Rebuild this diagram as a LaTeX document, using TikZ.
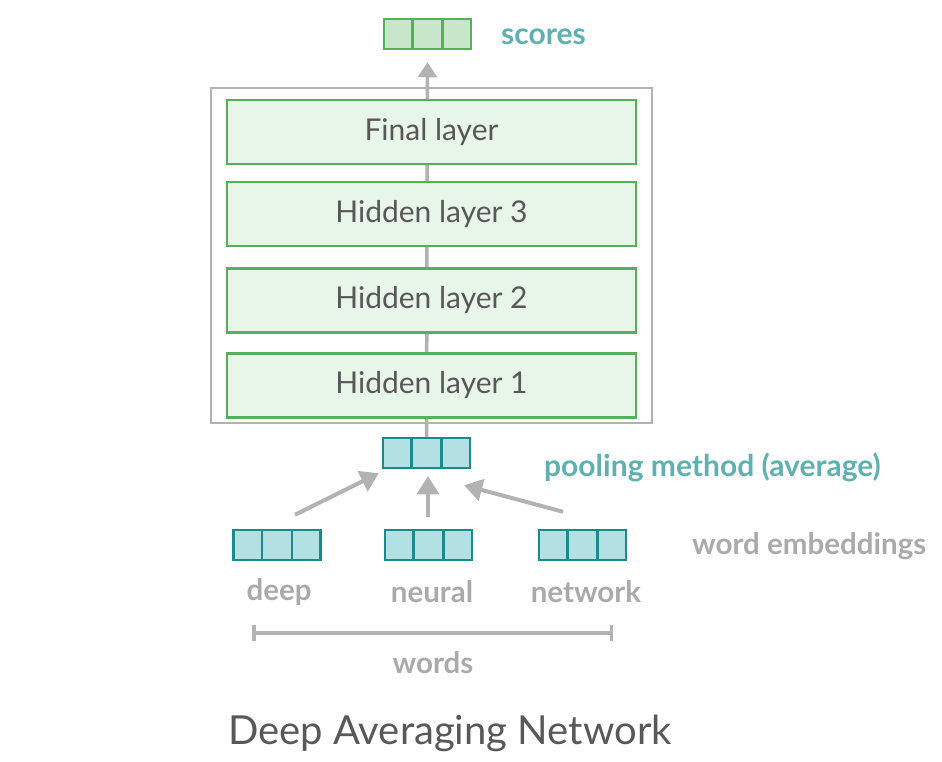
\documentclass[tikz,border=0pt]{standalone}
\usepackage{fontspec}
\setmainfont{Lato}
\usetikzlibrary{arrows.meta, positioning, calc, backgrounds}
\definecolor{layergreen}{RGB}{86,176,90}
\definecolor{layerfill}{RGB}{232,245,233}
\definecolor{scorefill}{RGB}{200,230,201}
\definecolor{embteal}{RGB}{27,138,140}
\definecolor{embfill}{RGB}{178,224,227}
\definecolor{labelteal}{RGB}{95,176,176}
\definecolor{softgray}{RGB}{178,178,178}
\definecolor{wordgray}{RGB}{170,170,170}
\definecolor{textdark}{RGB}{88,88,88}
\newcommand{\pxfont}[1]{\fontsize{#1}{#1}\selectfont}

\begin{document}
\begin{tikzpicture}[
            x=1pt, y=-1pt,
            layer/.style={draw=layergreen, line width=2.5pt, fill=layerfill,
                minimum width=409pt, minimum height=64pt, inner sep=0pt,
                text=textdark, font=\pxfont{30}},
            vec/.style={line width=2.5pt, minimum width=87pt, minimum height=30pt, inner sep=0pt},
            scorevec/.style={vec, draw=layergreen, fill=scorefill},
            embvec/.style={vec, draw=embteal, fill=embfill},
            teallabel/.style={text=labelteal, font=\pxfont{30}\bfseries, inner sep=0pt},
            graylabel/.style={text=wordgray, font=\pxfont{29.5}\bfseries, inner sep=0pt},
            flow/.style={draw=softgray, line width=3.5pt, -{Triangle[length=15pt, width=19pt]}},
            pool arrow/.style={draw=softgray, line width=4pt, -{Triangle[length=18pt, width=22pt]}},
        ]
            \useasboundingbox (0,0) rectangle (942,762);

            % Network frame and layers
            \node[draw=softgray, line width=2.5pt, minimum width=441pt, minimum height=335pt] (frame) at (431.5,255.5) {};
            \node[layer] (final) at (431.5,132) {Final layer};
            \node[layer] (hid3) at (431.5,214) {Hidden layer 3};
            \node[layer] (hid2) at (431.5,300.5) {Hidden layer 2};
            \node[layer] (hid1) at (431.5,385.5) {Hidden layer 1};

            % Output scores
            \node[scorevec] (scores) at (427.5,34) {};
            \node[teallabel, anchor=west] (scoreslbl) at (501,37) {scores};

            % Pooled vector
            \node[embvec] (pool) at (426.5,453) {};
            \node[teallabel, anchor=west] (poollbl) at (544,467) {pooling method (average)};

            % Word embeddings
            \node[embvec] (deep) at (277,545) {};
            \node[embvec] (neural) at (428.5,545) {};
            \node[embvec] (network) at (582.5,545) {};
            \node[graylabel, anchor=west] (emblbl) at (692,546) {word embeddings};

            % Cell dividers
            \foreach \v/\c in {scores/layergreen, pool/embteal, deep/embteal, neural/embteal, network/embteal} {
                \draw[\c, line width=2.5pt] ($(\v.north west)!1/3!(\v.north east)$) -- ($(\v.south west)!1/3!(\v.south east)$);
                \draw[\c, line width=2.5pt] ($(\v.north west)!2/3!(\v.north east)$) -- ($(\v.south west)!2/3!(\v.south east)$);
            }

            % Words
            \node[graylabel] (wdeep) at (279,592) {deep};
            \node[graylabel] (wneural) at (432,592) {neural};
            \node[graylabel] (wnetwork) at (586,592) {network};

            % Words bracket
            \coordinate (brl) at (252,633);
            \coordinate (brr) at (613,633);
            \draw[draw=softgray, line width=3.5pt, {Bar[width=16pt]}-{Bar[width=16pt]}] (brl) -- (brr);
            \node[graylabel] (wordslbl) at (433,663) {words};

            % Title
            \node[text=textdark, font=\pxfont{40}] (title) at (450,733) {Deep Averaging Network};

            % Flow through the network
            \begin{pgfonlayer}{background}
                \draw[flow, shorten >=12pt] (pool.north) -- (scores.south);
            \end{pgfonlayer}

            % Pooling arrows
            \draw[pool arrow] ([xshift=18pt,yshift=14pt]deep.north) -- ([xshift=-3pt,yshift=-4pt]pool.south west);
            \draw[pool arrow] ([xshift=-0.5pt,yshift=12pt]neural.north) -- ([xshift=1.5pt,yshift=-7pt]pool.south);
            \draw[pool arrow] ([xshift=-19.5pt,yshift=17pt]network.north) -- ([xshift=-7pt,yshift=-16pt]pool.south east);
        \end{tikzpicture}
\end{document}
